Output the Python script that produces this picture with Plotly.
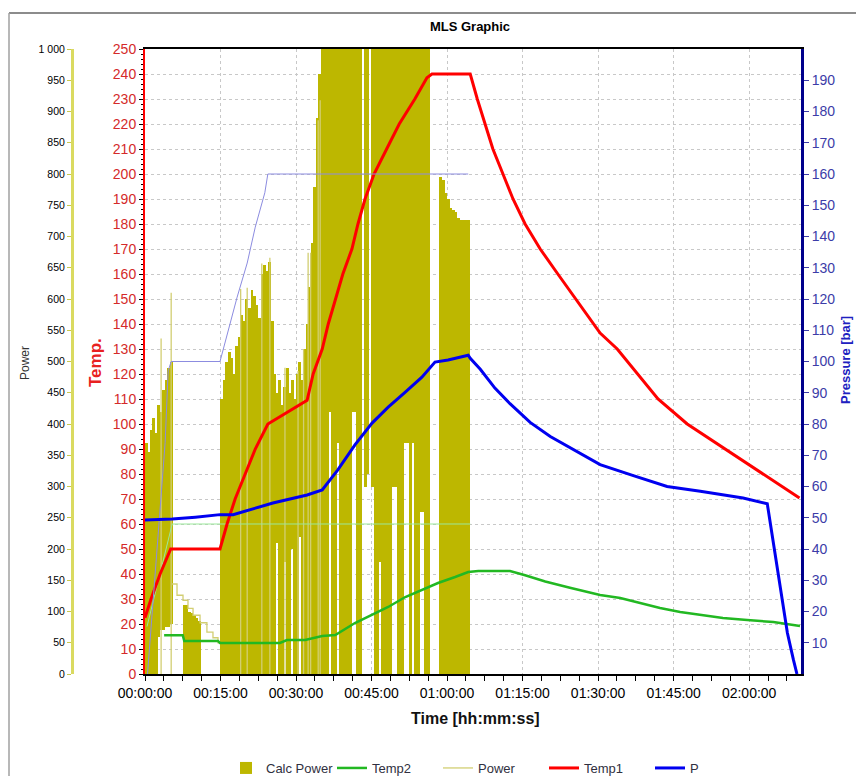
import plotly.graph_objects as go

# ---------------- data ----------------
# time axis (minutes from start) and its labels
time_ticks = [0, 15, 30, 45, 60, 75, 90, 105, 120]
time_labels = ["00:00:00", "00:15:00", "00:30:00", "00:45:00", "01:00:00",
               "01:15:00", "01:30:00", "01:45:00", "02:00:00"]

power_ticks = [0, 50, 100, 150, 200, 250, 300, 350, 400, 450, 500,
               550, 600, 650, 700, 750, 800, 850, 900, 950, 1000]
power_labels = ["0", "50", "100", "150", "200", "250", "300", "350", "400", "450", "500",
                "550", "600", "650", "700", "750", "800", "850", "900", "950", "1 000"]
temp_ticks = [0, 10, 20, 30, 40, 50, 60, 70, 80, 90, 100, 110, 120, 130, 140, 150,
              160, 170, 180, 190, 200, 210, 220, 230, 240, 250]
pressure_ticks = [10, 20, 30, 40, 50, 60, 70, 80, 90, 100, 110, 120, 130, 140,
                  150, 160, 170, 180, 190]

# Calc Power: half-minute bins (centre time, upper value, lower value)
calc_time = [
    0.25, 0.75, 1.25, 1.75, 2.25, 2.75, 3.25, 3.75, 4.25, 4.75, 5.25,
    7.75, 8.25, 8.75, 9.25, 9.75, 10.25, 10.75,
    15.25, 15.75, 16.25, 16.75, 17.25, 17.75, 18.25, 18.75, 19.25, 19.75,
    20.25, 20.75, 21.25, 21.75, 22.25, 22.75, 23.25, 23.75, 24.25, 24.75,
    25.25, 25.75, 26.25, 26.75, 27.25, 27.75, 28.25, 28.75, 29.25, 29.75,
    30.25, 30.75, 31.25, 31.75, 32.25, 32.75, 33.25, 33.75, 34.25, 34.75,
    35.25, 35.75, 36.25, 36.75, 37.25, 37.75, 38.25, 38.75, 39.25, 39.75,
    40.25, 40.75, 41.25, 41.75, 42.25, 42.75, 43.25, 43.75, 44.25, 44.75,
    45.25, 45.75, 46.25, 46.75, 47.25, 47.75, 48.25, 48.75, 49.25, 49.75,
    50.25, 50.75, 51.25, 51.75, 52.25, 52.75, 53.25, 53.75, 54.25, 54.75,
    55.25, 55.75, 56.25,
    58.75, 59.25, 59.75, 60.25, 60.75, 61.25, 61.75, 62.25, 62.75, 63.25, 63.75, 64.25,
]
calc_max = [
    370, 355, 390, 410, 385, 430, 420, 455, 470, 490, 500,
    110, 110, 100, 97, 95, 90, 85,
    440, 470, 500, 515, 505, 480, 525, 540, 575, 565,
    600, 585, 615, 605, 590, 570, 640, 655, 645, 660,
    565, 480, 450, 470, 430, 460, 490, 450, 470, 440,
    480, 500, 470, 520, 560, 620, 690, 780, 890, 960,
    1100, 1100, 1100, 1100, 1100, 1100, 1100, 1100, 1100, 1100,
    1100, 1100, 1100, 1100, 1100, 1100, 0, 1100, 1100, 0,
    1100, 1100, 1100, 1100, 1100, 1100, 1100, 1100, 1100, 1100,
    1100, 1100, 1100, 1100, 1100, 1100, 1100, 1100, 1100, 1100,
    1100, 1100, 1100,
    795, 790, 770, 760, 745, 742, 740, 730, 726, 726, 726, 726,
]
calc_min = [
    0, 0, 0, 0, 0, 60, 70, 70, 75, 75, 80,
    0, 0, 0, 0, 0, 0, 0,
    0, 0, 0, 0, 0, 0, 0, 0, 0, 0,
    0, 0, 0, 0, 0, 0, 0, 0, 0, 0,
    0, 0, 210, 0, 0, 180, 0, 0, 200, 0,
    0, 220, 0, 0, 0, 0, 0, 0, 0, 0,
    0, 0, 0, 420, 0, 0, 370, 0, 0, 0,
    0, 0, 420, 420, 0, 0, 0, 300, 320, 0,
    300, 0, 0, 180, 0, 0, 0, 0, 300, 300,
    0, 0, 0, 370, 370, 0, 370, 0, 0, 260,
    260, 0, 0,
    0, 0, 0, 0, 0, 0, 0, 0, 0, 0, 0, 0,
]

# Power: stepped section while heating pauses, plus single peaks
power_step_time = [5.36, 6.36, 7.55, 8.54, 9.54, 10.93, 12.3, 13.5, 14.5, 14.9]
power_step_value = [144, 126, 118, 105, 94, 82, 67, 58, 50, 50]
power_peak_time = [3.2, 5.2, 19.0, 20.3, 23.2, 24.8, 27.8, 30.4, 31.5, 32.4, 32.9, 34.4, 34.8]
power_peak_value = [537, 610, 616, 618, 657, 666, 490, 485, 520, 674, 674, 886, 918]

# Temp1
temp1_time = [0, 1.2, 3.0, 5.1, 5.4, 14.9, 16.3, 17.9, 19.9, 21.9, 24.4, 26.8, 29.4, 32.2,
              33.4, 35.2, 36.4, 37.8, 39.3, 41.1, 42.3, 43.7, 45.5, 48.0, 50.5, 53.6, 56.0,
              57.0, 64.6, 66.0, 67.6, 69.1, 71.1, 73.1, 75.5, 78.5, 82.0, 85.5, 89.0, 90.4,
              93.8, 97.8, 101.9, 107.7, 115.2, 122.8, 126.8, 130.0]
temp1 = [22.5, 30, 40, 50, 50, 50, 60, 70, 80, 90, 100, 103, 106, 109.5,
         120, 130, 140, 150, 160, 170, 180, 190, 200, 210, 220, 230, 238.5,
         240, 240, 230, 220, 210, 200, 190, 180, 170, 160, 150, 140, 136.4,
         130, 120, 110, 100, 90, 80, 74.5, 70.4]

# Temp2
temp2_time = [3.8, 7.5, 7.8, 14.5, 14.9, 26.8, 28.2, 31.8, 35.2, 37.8, 41.7, 45.1, 48.3,
              51.7, 55.0, 58.2, 61.6, 64.2, 66.2, 72.5, 75.5, 79.5, 84.4, 90.4, 94.4,
              98.4, 102.3, 106.3, 110.3, 114.8, 119.6, 124.8, 130.1]
temp2 = [15.5, 15.5, 13.2, 13.2, 12.4, 12.4, 13.6, 13.6, 15.2, 15.6, 20.4, 23.6, 26.8,
         30.8, 33.6, 36.4, 38.8, 40.8, 41.2, 41.2, 39.5, 37, 34.5, 31.6, 30.4,
         28.4, 26.4, 24.8, 23.6, 22.4, 21.6, 20.8, 19.2]

# P (pressure, bar)
p_time = [0, 5.4, 10, 14.9, 17.5, 25.4, 32.2, 35.2, 38.3, 41.7, 45.1, 48.3, 51.7, 55.0,
          57.6, 60.2, 64.2, 64.6, 66.6, 69.5, 72.5, 76.5, 80.5, 85.4, 90.4, 97.0, 103.7,
          110.3, 118.8, 123.6, 124.2, 125.6, 126.6, 127.6, 128.8, 129.5]
p_bar = [49.3, 49.6, 50.2, 51, 51, 54.7, 57.3, 58.9, 65.3, 73.3, 80.3, 85.4, 90.2, 95,
         99.8, 100.5, 102, 101, 97.5, 91.5, 86.5, 80.5, 76, 71.5, 67, 63.5, 60,
         58.5, 56.3, 54.5, 48.3, 34.2, 23.7, 13.1, 4.5, 0]

# set-point profiles
p_set_time = [0.5, 3.0, 4.0, 4.6, 5.2, 14.9, 18.3, 20.3, 21.9, 23.8, 24.4, 64.2]
p_set = [0, 54.7, 74, 97, 100, 100, 120.6, 131.5, 143, 154, 160, 160]
t_set_time = [0.4, 5.4, 64.6]
t_set = [19, 60, 60]

# ---------------- styling ----------------
W, H = 856, 776
PL, PR, PT, PB = 145, 801, 49, 674          # plot rectangle in pixels
FONT = "Liberation Sans, Arial, sans-serif"
OLIVE = "#BDB700"
PALE = "#D2CE72"
GRID = "#C8C8C8"


def px_x(v):
    return v / W


def px_y(v):
    return 1 - v / H


# build the Power path: stepped part followed by vertical peaks
pw_x = list(power_step_time)
pw_y = list(power_step_value)
for t, v in zip(power_peak_time, power_peak_value):
    pw_x += [None, t, t]
    pw_y += [None, 0, v]

fig = go.Figure()

# bins are drawn slightly wider than 0.5 min so neighbours join without seams
fig.add_trace(go.Bar(
    x=calc_time, y=[hi - lo for hi, lo in zip(calc_max, calc_min)], base=calc_min,
    width=0.58, marker=dict(color=OLIVE, line=dict(width=0)),
    name="Calc Power", legendrank=1, yaxis="y", hoverinfo="skip"))
fig.add_trace(go.Scatter(
    x=pw_x, y=pw_y, mode="lines", line=dict(color=PALE, width=1.3, shape="hv"),
    name="Power", legendrank=3, yaxis="y", connectgaps=False))

fig.add_trace(go.Scatter(
    x=t_set_time, y=t_set, mode="lines", line=dict(color="#9AE89A", width=1),
    showlegend=False, yaxis="y2"))
fig.add_trace(go.Scatter(
    x=temp2_time, y=temp2, mode="lines", line=dict(color="#22B822", width=2.5),
    name="Temp2", legendrank=2, yaxis="y2"))
fig.add_trace(go.Scatter(
    x=temp1_time, y=temp1, mode="lines", line=dict(color="#FF0000", width=3),
    name="Temp1", legendrank=4, yaxis="y2"))

fig.add_trace(go.Scatter(
    x=p_set_time, y=p_set, mode="lines", line=dict(color="#8C8CE0", width=1),
    showlegend=False, yaxis="y3"))
fig.add_trace(go.Scatter(
    x=p_time, y=p_bar, mode="lines", line=dict(color="#0000F0", width=3),
    name="P", legendrank=5, yaxis="y3"))

ydom = [1 - PB / H, 1 - PT / H]

fig.update_layout(
    width=W, height=H,
    margin=dict(l=0, r=0, t=0, b=0, autoexpand=False),
    paper_bgcolor="white", plot_bgcolor="white",
    font=dict(family=FONT, size=13, color="#000"),
    barmode="overlay", bargap=0,
    hovermode=False,
    title=dict(text="<b>MLS Graphic</b>", x=px_x(470), xanchor="center",
               y=px_y(26), yanchor="middle", font=dict(size=13, color="#000")),
    legend=dict(orientation="h", x=px_x(226), xanchor="left", y=px_y(768),
                yanchor="middle", entrywidth=61, font=dict(size=13, color="#303040"),
                bgcolor="rgba(0,0,0,0)", traceorder="normal"),
    xaxis=dict(
        domain=[PL / W, PR / W], range=[0, 130.3], anchor="y",
        tickmode="array", tickvals=time_ticks, ticktext=time_labels,
        ticks="outside", ticklen=5, tickcolor="#000", tickwidth=1,
        tickfont=dict(size=14, color="#000"),
        showline=True, linecolor="#000", linewidth=2, mirror=True,
        showgrid=True, gridcolor=GRID, griddash="dot", gridwidth=1, zeroline=False,
        minor=dict(tick0=0, dtick=3.75, ticks="outside", ticklen=5, tickcolor="#000",
                   showgrid=False),
    ),
    yaxis=dict(
        domain=ydom, range=[0, 1000], anchor="free", position=px_x(72), side="left",
        tickmode="array", tickvals=power_ticks, ticktext=power_labels,
        ticks="outside", ticklen=4, tickcolor="#C8C850",
        tickfont=dict(size=10.5, color="#000"),
        showline=True, linecolor="#DADA60", linewidth=3,
        showgrid=False, zeroline=False,
    ),
    yaxis2=dict(
        overlaying="y", anchor="x", side="left", range=[0, 250],
        tickmode="array", tickvals=temp_ticks,
        ticks="outside", ticklen=4, tickcolor="#000",
        tickfont=dict(size=14, color="#D42A2A"),
        showline=True, linecolor="#FF0000", linewidth=2,
        showgrid=True, gridcolor=GRID, griddash="dot", gridwidth=1, zeroline=False,
        minor=dict(dtick=2, ticks="outside", ticklen=2, tickcolor="#000", showgrid=False),
    ),
    yaxis3=dict(
        overlaying="y", anchor="x", side="right", range=[0, 200],
        tickmode="array", tickvals=pressure_ticks,
        ticks="outside", ticklen=5, tickcolor="#3C3CA8",
        tickfont=dict(size=14, color="#3C3CA8"),
        showline=True, linecolor="#00008C", linewidth=3,
        showgrid=False, zeroline=False,
    ),
)

# axis titles
def axis_title(text, x, y, size, color, angle=0):
    fig.add_annotation(text=text, x=px_x(x), y=px_y(y), xref="paper", yref="paper",
                       xanchor="center", yanchor="middle", textangle=angle,
                       showarrow=False, font=dict(size=size, color=color))


axis_title("Power", 25, 363, 12, "#333", -90)
axis_title("<b>Temp.</b>", 95, 363, 17, "#E82020", -90)
axis_title("<b>Pressure [bar]</b>", 845, 360, 13, "#2020C0", -90)
axis_title("<b>Time [hh:mm:ss]</b>", 475, 718, 16, "#111")

# outer frame edges
fig.add_shape(type="line", xref="paper", yref="paper", x0=px_x(9), x1=1.0,
              y0=px_y(13), y1=px_y(13), line=dict(color="#8C8C8C", width=2))
fig.add_shape(type="line", xref="paper", yref="paper", x0=px_x(9), x1=px_x(9),
              y0=px_y(13), y1=0, line=dict(color="#A0A0A0", width=1.5))

fig.write_html("out.html")
